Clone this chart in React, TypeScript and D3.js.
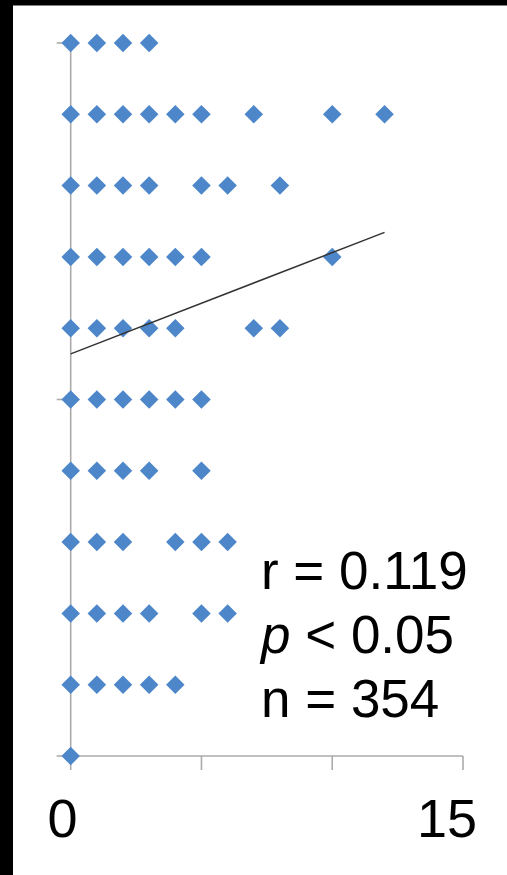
import React from "react";
import * as d3 from "d3";

// Observed (x, y) pairs, one list of x values per y level
const yLevels = [10, 9, 8, 7, 6, 5, 4, 3, 2, 1, 0];
const xByLevel: number[][] = [
  [0, 1, 2, 3],
  [0, 1, 2, 3, 4, 5, 7, 10, 12],
  [0, 1, 2, 3, 5, 6, 8],
  [0, 1, 2, 3, 4, 5, 10],
  [0, 1, 2, 3, 4, 7, 8],
  [0, 1, 2, 3, 4, 5],
  [0, 1, 2, 3, 5],
  [0, 1, 2, 4, 5, 6],
  [0, 1, 2, 3, 5, 6],
  [0, 1, 2, 3, 4],
  [0],
];

// Linear fit shown as the trend line
const trendIntercept = 5.64;
const trendSlope = 0.142;
const trendRange = [0, 12];

const xTicks = [0, 5, 10, 15];
const yTicks = [0, 5, 10];
const xLabels = ["0", "15"];
const statLines = ["r = 0.119", "p < 0.05", "n = 354"];

const W = 507;
const H = 875;
const FONT = "'Liberation Sans', Arial, Helvetica, sans-serif";

export default function App() {
  const x = d3.scaleLinear().domain([0, 15]).range([70.7, 463]);
  const y = d3.scaleLinear().domain([0, 10]).range([756, 43]);

  const points = yLevels.flatMap((lv, i) => xByLevel[i].map((xv) => ({ x: xv, y: lv })));
  const diamond = d3.symbol().type(d3.symbolSquare).size(172)();

  const trend = d3
    .line<number>()
    .x((d) => x(d))
    .y((d) => y(trendIntercept + trendSlope * d))(trendRange);

  const axisColor = "#ababab";
  const tickLen = 14;

  return (
    <svg
      width={W}
      height={H}
      style={{ position: "absolute", left: 0, top: 0, background: "#fff" }}
    >
      <rect x={0} y={0} width={W} height={H} fill="#fff" />
      {/* dark frame edges */}
      <rect x={0} y={0} width={13} height={H} fill="#000" />
      <rect x={0} y={0} width={W} height={5.5} fill="#000" />

      {/* axes */}
      <g stroke={axisColor} strokeWidth={1.6} fill="none">
        <line x1={x(0)} x2={x(15)} y1={y(0)} y2={y(0)} />
        <line x1={x(0)} x2={x(0)} y1={y(10)} y2={y(0)} />
        {xTicks.map((t) => (
          <line key={"xt" + t} x1={x(t)} x2={x(t)} y1={y(0)} y2={y(0) + tickLen} />
        ))}
        {yTicks.map((t) => (
          <line key={"yt" + t} x1={x(0) - tickLen} x2={x(0)} y1={y(t)} y2={y(t)} />
        ))}
      </g>

      {/* data points */}
      <g fill="#4d87c9">
        {points.map((p, i) => (
          <path
            key={i}
            d={diamond || ""}
            transform={`translate(${x(p.x)},${y(p.y)}) rotate(45)`}
          />
        ))}
      </g>

      {/* trend line */}
      <path d={trend || ""} fill="none" stroke="#333" strokeWidth={1.5} />

      {/* axis end labels */}
      <g fontFamily={FONT} fontSize={54} fill="#000">
        <text x={62.5} y={837} textAnchor="middle">
          {xLabels[0]}
        </text>
        <text x={477} y={837} textAnchor="end">
          {xLabels[1]}
        </text>
      </g>

      {/* statistics */}
      <g fontFamily={FONT} fontSize={53} fill="#000">
        <text x={261} y={589}>{statLines[0]}</text>
        <text x={261} y={653}>
          <tspan fontStyle="italic">{statLines[1].slice(0, 1)}</tspan>
          {statLines[1].slice(1)}
        </text>
        <text x={261} y={717}>{statLines[2]}</text>
      </g>
    </svg>
  );
}
